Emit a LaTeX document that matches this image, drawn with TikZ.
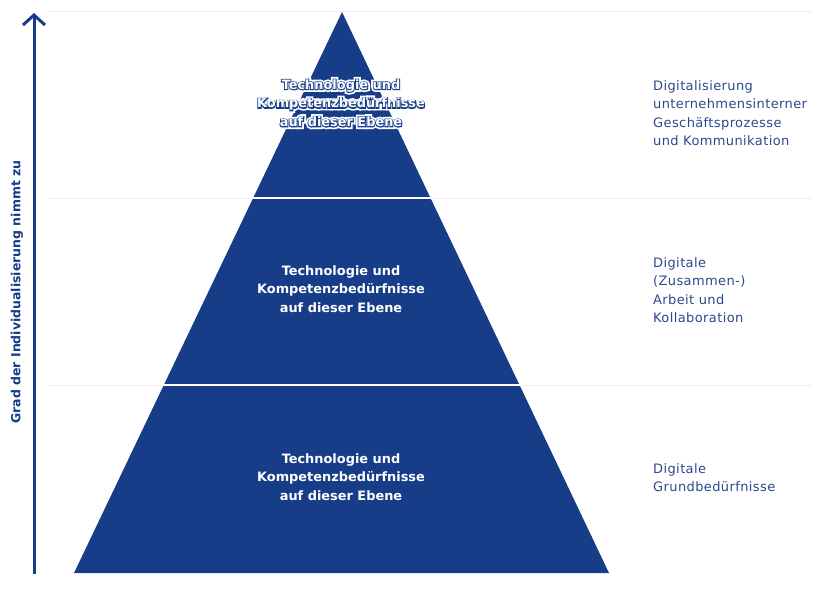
\documentclass[tikz,border=0pt]{standalone}
\usepackage{fontspec}
\setmainfont{DejaVu Sans}
\newfontface\sideface{DejaVu Sans}[LetterSpace=3]
\newfontface\haloface{DejaVu Sans Bold}[FakeBold=40]
\newfontface\rimface{DejaVu Sans Bold}[FakeBold=14]
\usetikzlibrary{arrows.meta}
\definecolor{pyblue}{HTML}{173D89}
\definecolor{txtblue}{HTML}{2A4A8C}
\definecolor{guide}{HTML}{EEEEEE}
\tikzset{
  tiertext/.style={text=white, font=\fontsize{12.9}{18.6}\selectfont\bfseries, align=center, inner sep=0pt, anchor=base},
  sidetext/.style={text=txtblue, font=\fontsize{13}{18.5}\selectfont\sideface, align=left, inner sep=0pt, anchor=base west},
  guideline/.style={draw=guide, line width=1pt},
  divider/.style={draw=white, line width=2pt},
}
\begin{document}
\begin{tikzpicture}[x=1pt, y=-1pt]
\useasboundingbox (0,0) rectangle (818,590);

% light horizontal guide lines
\coordinate (g0l) at (48,11);   \coordinate (g0r) at (812,11);
\coordinate (g1l) at (48,198);  \coordinate (g1r) at (812,198);
\coordinate (g2l) at (48,385);  \coordinate (g2r) at (812,385);
\draw[guideline] (g0l) -- (g0r);
\draw[guideline] (g1l) -- (g1r);
\draw[guideline] (g2l) -- (g2r);

% pyramid
\coordinate (apex) at (342,12);
\coordinate (baseL) at (74,573);
\coordinate (baseR) at (609,573);
\fill[pyblue] (apex) -- (baseR) -- (baseL) -- cycle;

% white separators between tiers
\coordinate (d1l) at (252,198); \coordinate (d1r) at (432,198);
\coordinate (d2l) at (162,385); \coordinate (d2r) at (521,385);
\draw[divider] (d1l) -- (d1r);
\draw[divider] (d2l) -- (d2r);

% tier labels (top one with an outlined halo)
\node[tiertext, font=\fontsize{12.9}{18.6}\selectfont\haloface] (t1halo) at (341,126.5) {Technologie und\\Kompetenzbedürfnisse\\auf dieser Ebene};
\node[tiertext, text=pyblue, font=\fontsize{12.9}{18.6}\selectfont\rimface] (t1rim) at (341,126.5) {Technologie und\\Kompetenzbedürfnisse\\auf dieser Ebene};
\node[tiertext] (t1) at (341,126.5) {Technologie und\\Kompetenzbedürfnisse\\auf dieser Ebene};
\node[tiertext] (t2) at (341,312.5) {Technologie und\\Kompetenzbedürfnisse\\auf dieser Ebene};
\node[tiertext] (t3) at (341,500.5) {Technologie und\\Kompetenzbedürfnisse\\auf dieser Ebene};

% side descriptions
\node[sidetext] (s1) at (653,145.5) {Digitalisierung\\unternehmensinterner\\Geschäftsprozesse\\und Kommunikation};
\node[sidetext] (s2) at (653,322.5) {Digitale\\(Zusammen-)\\Arbeit und\\Kollaboration};
\node[sidetext] (s3) at (653,491.5) {Digitale\\Grundbedürfnisse};

% vertical axis
\coordinate (axbot) at (34,574);
\coordinate (axtop) at (34,13);
\draw[pyblue, line width=3pt, -{Straight Barb[length=10pt, width=22pt, line width=3pt]}] (axbot) -- (axtop);
\node[text=pyblue, font=\fontsize{12.5}{14}\selectfont\bfseries, rotate=90, inner sep=0pt] (axlabel) at (17,292) {Grad der Individualisierung nimmt zu};
\end{tikzpicture}
\end{document}
